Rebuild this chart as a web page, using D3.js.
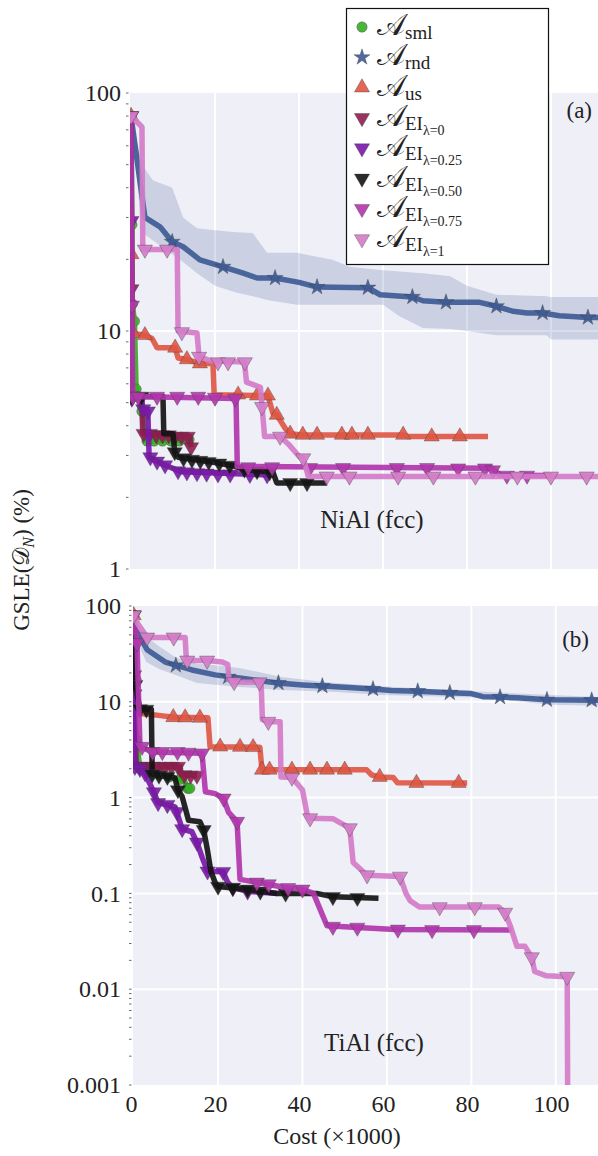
<!DOCTYPE html>
<html>
<head>
<meta charset="utf-8">
<script src="https://cdn.jsdelivr.net/npm/d3@7"></script>
<style>
body { margin: 0; background: #fff; }
svg text { font-family: "Liberation Serif", "DejaVu Serif", serif; fill: #222; }
</style>
</head>
<body>
<script>
// legend / series info
const seriesSub = ["sml", "rnd", "us", "EI", "EI", "EI", "EI", "EI"];
const seriesSubSub = ["", "", "", "λ=0", "λ=0.25", "λ=0.50", "λ=0.75", "λ=1"];
const colors = ["#36ad25", "#3e5b95", "#df5744", "#8e1d4e", "#7a18a8", "#141414", "#b136ac", "#d47cc8"];
const markerKinds = ["circle", "star", "up", "down", "down", "down", "down", "down"];

const xTicks = [0, 20, 40, 60, 80, 100];
const niYTicks = [1, 10, 100];
const tiYTicks = [0.001, 0.01, 0.1, 1, 10, 100];
const tiYTickLabels = ["0.001", "0.01", "0.1", "1", "10", "100"];

// ---- NiAl (fcc): [cost (x1000), GSLE %]
const niSml = [[0,80],[0.2,28],[0.3,13],[0.8,11],[1.2,5.7],[2.6,4.6],[3.8,3.45],[13.8,3.5]];
const niSmlMk = [[0,80],[0.2,28],[0.3,13],[0.8,11],[1.2,5.7],[2.6,4.6],[3.8,3.45],[5.5,3.45],[7.5,3.45],[9.5,3.45],[11.5,3.45],[13.8,3.5]];
const niRnd = [[0,80],[3.3,30],[6.9,27.4],[9.8,23.7],[12.4,22.6],[16.4,19.9],[21.9,18.6],[26.7,17.5],[30,16.7],[34.3,16.7],[40,16],[44.3,15.3],[56.4,15.2],[59.3,14.2],[67,13.9],[69.5,13.4],[75,13.2],[83,13.2],[87,12.7],[91,12.1],[94.3,11.9],[98,11.9],[102,11.6],[108.8,11.4],[112,11.4]];
const niRndMk = [[9.8,23.7],[21.9,18.6],[34.3,16.7],[44.3,15.3],[56.4,15.2],[67,13.9],[75,13.2],[87,12.7],[98,11.9],[108.8,11.4]];
const niBandCost = [0, 2.6, 5.2, 9.8, 12.4, 15.7, 20, 25, 29, 32.4, 39.5, 48, 52, 60, 64, 69.5, 76, 80, 87, 99, 100, 112];
const niBandHi = [80, 50, 43, 40, 30, 27, 26.5, 26, 25.8, 21.3, 21.3, 19.9, 18.6, 18, 17.8, 17.5, 17, 15.5, 14.2, 14, 13.9, 13.9];
const niBandLo = [80, 26, 24, 21, 19.5, 17.5, 15.5, 14.5, 14, 13.5, 12.9, 12.9, 12.9, 12.9, 11.5, 10.3, 10.2, 10, 9.6, 9.6, 9.2, 9.2];
const niUs = [[0,80],[0.1,21],[0.4,9.8],[3.3,9.6],[5,9.3],[6.2,8.5],[10.5,8.5],[11.2,7.7],[13.3,7.6],[16.4,7.3],[19.5,7.3],[19.8,5.4],[32.6,5.35],[33.8,4.5],[34.7,4.44],[36.7,3.9],[37.9,3.7],[40.7,3.66],[64.8,3.66],[66,3.6],[85,3.6]];
const niUsMk = [[0,80],[0.1,21],[0.4,9.8],[3.3,9.6],[10.5,8.5],[13.3,7.6],[16.4,7.3],[25.5,5.4],[30,5.35],[32.6,5.35],[34.7,4.44],[37.9,3.7],[40.9,3.66],[44.3,3.66],[50.2,3.66],[52.6,3.66],[56.4,3.66],[64.8,3.66],[71.6,3.6],[78.3,3.6]];
const niEi0 = [[0,80],[0.1,15],[0.3,5.3],[2.5,5.3],[2.8,3.7],[14,3.6],[14.3,3.25]];
const niEi0Mk = [[0,80],[0.1,15],[0.3,5.3],[3,3.7],[4.5,3.7],[6,3.65],[7.5,3.65],[9,3.65],[10.5,3.6],[12,3.6],[13.5,3.6],[14.3,3.25]];
const niEi25 = [[0,80],[0.1,29],[0.2,5.2],[2.5,5.2],[2.8,4.7],[4,4.6],[4.3,2.95],[6.2,2.83],[8.1,2.73],[12.1,2.56],[34,2.48]];
const niEi25Mk = [[0,80],[0.1,29],[0.2,5.2],[2.9,4.7],[4,4.6],[4.6,2.95],[6.2,2.83],[8.1,2.73],[11.2,2.58],[13.3,2.55],[15.7,2.53],[18,2.52],[20.7,2.5],[23.6,2.5],[28.3,2.49],[32.4,2.48]];
const niEi50 = [[0,80],[0.1,5.3],[7.6,5.3],[7.8,3.7],[10,3.7],[10.4,3.1],[11.2,2.95],[20,2.8],[24.8,2.7],[26.7,2.62],[33.8,2.55],[34.7,2.3],[46.7,2.3]];
const niEi50Mk = [[0.1,5.3],[2.5,5.3],[10.4,3.1],[12.5,2.92],[14.5,2.88],[16.5,2.85],[18.5,2.82],[21,2.78],[23.5,2.72],[27,2.62],[30,2.58],[33,2.55],[37.9,2.3],[41.9,2.3]];
const niEi75 = [[0,80],[0.2,12.8],[0.4,5.3],[25,5.2],[25.3,2.7],[86,2.65],[87.9,2.48],[100.2,2.47]];
const niEi75Mk = [[0,80],[0.2,12.8],[0.4,5.3],[1.7,5.3],[6.2,5.3],[11,5.3],[16,5.3],[20,5.25],[24.8,5.2],[27.9,2.68],[33.6,2.68],[42.6,2.66],[50.5,2.66],[63.3,2.66],[70.5,2.66],[77.9,2.65],[84.3,2.65],[86.2,2.6],[89.5,2.47],[94.3,2.47]];
const niEi100 = [[0,80],[2.6,72],[2.8,22],[11,22],[11.2,10],[15.7,9.8],[16.2,7.8],[19,7.5],[27,7.4],[27.5,6.1],[30.8,5.8],[31.2,4.8],[31.8,3.6],[35.5,3.6],[37.8,3.3],[40.2,2.95],[41,2.92],[42.2,2.45],[112,2.45]];
const niEi100Mk = [[0,80],[3.3,22],[8.6,22],[12.1,9.9],[16.2,7.8],[20.7,7.4],[23.1,7.4],[27.1,7.4],[31.2,4.8],[35.5,3.6],[41,2.92],[46.6,2.45],[52,2.45],[63.6,2.45],[72,2.45],[82,2.45],[92,2.45],[100,2.45],[108.5,2.45]];

// ---- TiAl (fcc)
const tiSml = [[0,80],[0.1,17],[0.2,10],[0.6,4],[1.5,2.0],[5,1.8],[12,1.5],[12.8,1.25],[13.3,1.25]];
const tiSmlMk = [[0,80],[0.1,17],[0.2,10],[0.6,4],[1.5,2],[3.5,1.85],[6,1.75],[8.5,1.65],[11,1.55],[12.8,1.25],[13.3,1.25]];
const tiRnd = [[0,80],[0.5,56],[3.2,35],[7.5,26],[13.8,21.5],[19.3,19.1],[26,17.5],[34.2,15.7],[40,15],[44.7,14.6],[51,14.1],[56.7,13.6],[61,13.1],[67.3,12.9],[74.9,12.4],[80,12.2],[82.7,11.3],[86.8,11.2],[91,11],[97.9,10.5],[111,10.4]];
const tiRndMk = [[10,24],[22.4,18.2],[34.3,15.7],[44.7,14.6],[56.7,13.6],[67.3,12.9],[74.9,12.4],[86.8,11.2],[97.9,10.5],[108.5,10.4]];
const tiBandCost = [0, 0.5, 3, 6, 10, 15, 20, 25, 35, 47, 59, 70, 83, 90, 99, 111];
const tiBandHi = [80, 63, 48, 38, 29, 25, 24, 22.6, 18.1, 15.8, 14.5, 13.6, 12.7, 12.3, 11.8, 11.2];
const tiBandLo = [80, 45, 26, 22, 19, 15.7, 15, 14.3, 13.3, 12.7, 11.8, 11.4, 11, 10.2, 9.3, 9.1];
const tiUs = [[0,80],[0.1,19],[0.3,8],[1,7.6],[5,7.3],[9.4,6.9],[17.6,6.8],[18.1,3.4],[29.9,3.35],[30.4,1.95],[55.2,1.95],[56.4,1.72],[58.3,1.64],[61.5,1.62],[62.5,1.43],[79,1.42]];
const tiUsMk = [[0,80],[0.1,19],[0.3,8],[9.4,6.9],[12.2,6.85],[15.7,6.8],[20.5,3.4],[25.2,3.38],[28.3,3.36],[30.4,1.95],[32.2,1.95],[37.5,1.95],[41.8,1.95],[45.8,1.95],[50,1.95],[58.3,1.64],[67,1.42],[77,1.42]];
const tiEi0 = [[0,80],[0.1,19],[0.2,12],[0.6,2.1],[11,2.1],[11.3,1.72],[15,1.7]];
const tiEi0Mk = [[0,80],[0.1,19],[0.2,12],[1.5,2.1],[3,2.1],[4.5,2.1],[6,2.1],[7.5,2.1],[9,2.1],[10.5,2.1],[12,1.72],[13.5,1.7],[15,1.7]];
const tiEi25 = [[0,80],[0.3,2.1],[1.5,2.0],[2.7,1.8],[3.5,1.5],[4.8,1.14],[5.8,0.88],[8,0.84],[9.8,0.8],[10.2,0.71],[11.5,0.47],[13.8,0.44],[15,0.34],[16.2,0.24],[17.5,0.17],[21.2,0.168],[22.3,0.13],[23.5,0.115],[27,0.105],[34,0.1]];
const tiEi25Mk = [[0,80],[0.3,2.1],[1.5,2.0],[2.7,1.8],[4.8,1.14],[5.8,0.88],[8,0.84],[10.2,0.71],[11.5,0.47],[15,0.34],[17.5,0.17],[21.2,0.168],[23.5,0.115],[27,0.105]];
const tiEi50 = [[0,80],[0.2,45],[0.4,15],[1.5,8.4],[4.2,8.3],[4.4,1.75],[9.8,1.6],[10.5,1.2],[11.5,1.02],[13,0.58],[15.7,0.56],[16.6,0.46],[17.5,0.28],[18.3,0.17],[19.3,0.13],[20,0.118],[27,0.11],[34,0.1],[43.4,0.1],[47.2,0.092],[58,0.089]];
const tiEi50Mk = [[0.4,15],[1.5,8.4],[3,8.3],[4.4,1.75],[6,1.7],[8,1.65],[10.5,1.2],[16.6,0.46],[20,0.118],[23.5,0.114],[27,0.11],[30,0.105],[36,0.1],[47.2,0.092],[53,0.09]];
const tiEi75 = [[0,80],[0.8,41],[1.5,3.4],[4.5,3.0],[16.2,2.9],[17,1.15],[19.3,1.1],[21.3,0.98],[22.5,0.7],[24.5,0.56],[25.2,0.14],[36.6,0.114],[40,0.11],[42.6,0.1],[44.5,0.063],[45.8,0.046],[53,0.044],[62,0.042],[89.6,0.0415]];
const tiEi75Mk = [[0,80],[0.8,41],[2,3.4],[4.5,3.0],[6.8,3.0],[10.4,3.0],[13,2.95],[16.2,2.9],[21.3,0.98],[24.5,0.56],[29.2,0.13],[32,0.125],[36.6,0.114],[40,0.11],[47.2,0.045],[53,0.044],[62.6,0.042],[70.7,0.0415],[80.6,0.0415]];
const tiEi100 = [[0,80],[1,65],[3.2,47],[12.2,47],[12.5,27],[17.5,27],[21,26],[22.3,24.5],[22.6,16.9],[24,16.1],[30.2,16],[30.5,6.5],[31.9,6.2],[34.7,6.2],[34.9,1.64],[37.5,1.62],[40,1.2],[41.2,0.63],[41.8,0.61],[47.3,0.6],[51.2,0.48],[52,0.21],[55.3,0.155],[63.1,0.15],[64.5,0.1],[65.5,0.084],[67.7,0.072],[86.5,0.072],[88,0.063],[89.2,0.046],[90.8,0.028],[92.7,0.028],[94.3,0.0216],[95,0.0153],[97.8,0.0138],[102.7,0.0135],[102.9,0.0001]];
const tiEi100Mk = [[0,80],[3.2,47],[9.5,47],[12.7,27],[17.4,27],[23.8,16.1],[29.8,16],[31.9,6.2],[37.5,1.62],[41.8,0.61],[51.2,0.48],[55.3,0.155],[63.1,0.15],[72.5,0.072],[80.8,0.072],[88,0.063],[94.3,0.0216],[102.7,0.0135]];

const svg = d3.select("body").append("svg")
    .attr("width", 598)
    .attr("height", 1156);

// set the ranges of both panels
const xNi = d3.scaleLinear().domain([-0.25, 111.2]).range([130, 598]);
const yNi = d3.scaleLog().domain([1, 100]).range([569, 93]);
const xTi = d3.scaleLinear().domain([-0.15, 110]).range([133, 598]);
const yTi = d3.scaleLog().domain([0.001, 100]).range([1085, 606]);

function markerPath(kind) {
    if (kind === "circle") return d3.symbol().type(d3.symbolCircle).size(85)();
    if (kind === "star") return d3.symbol().type(d3.symbolStar).size(80)();
    return d3.symbol().type(d3.symbolTriangle).size(100)();
}

function drawPanel(p) {
    const x = p.x, y = p.y;
    const [x0, x1] = x.range();
    const [y1, y0] = y.range();
    const g = svg.append("g");

    g.append("clipPath").attr("id", p.id + "clip")
        .append("rect").attr("x", x0).attr("y", y0).attr("width", x1 - x0).attr("height", y1 - y0);

    g.append("rect")
        .attr("x", x0).attr("y", y0).attr("width", x1 - x0).attr("height", y1 - y0)
        .attr("fill", "#efeff7");

    // grid
    g.selectAll(".vg").data(xTicks.filter(d => d > 0)).enter().append("line")
        .attr("x1", d => x(d)).attr("x2", d => x(d))
        .attr("y1", y0).attr("y2", y1)
        .attr("stroke", "#fff").attr("stroke-width", 2);
    g.selectAll(".hg").data(p.yTicks.slice(1, -1)).enter().append("line")
        .attr("x1", x0).attr("x2", x1)
        .attr("y1", d => y(d)).attr("y2", d => y(d))
        .attr("stroke", "#fff").attr("stroke-width", 2);

    // minor ticks of the log axis
    const minor = [];
    p.yTicks.slice(0, -1).forEach(t => { for (let k = 2; k <= 9; k++) minor.push(t * k); });
    g.selectAll(".mt").data(minor.concat(p.yTicks)).enter().append("line")
        .attr("x1", x0 - 4).attr("x2", x0 - 1.5)
        .attr("y1", d => y(d)).attr("y2", d => y(d))
        .attr("stroke", "#444").attr("stroke-width", 0.8);

    // y axis labels
    const ax = g.append("g")
        .attr("transform", "translate(" + x0 + ",0)")
        .call(d3.axisLeft(y).tickValues(p.yTicks).tickFormat((d, i) => p.yLabels[i]).tickSize(0).tickPadding(x0 - 121));
    ax.select(".domain").remove();
    ax.attr("font-family", null).attr("font-size", null);
    ax.selectAll("text").attr("font-size", 24).attr("fill", "#222");

    const plot = g.append("g").attr("clip-path", "url(#" + p.id + "clip)");

    // shaded band of the random strategy
    const band = p.bandCost.map((c, i) => [c, p.bandLo[i], p.bandHi[i]]);
    plot.append("path")
        .datum(band)
        .attr("fill", colors[1]).attr("fill-opacity", 0.2)
        .attr("d", d3.area().x(d => x(d[0])).y0(d => y(d[1])).y1(d => y(d[2])));

    const line = d3.line().x(d => x(d[0])).y(d => y(d[1]));
    p.lines.forEach((s, i) => {
        plot.append("path")
            .datum(s)
            .attr("fill", "none")
            .attr("stroke", colors[i])
            .attr("stroke-width", 5.5)
            .attr("stroke-opacity", 0.92)
            .attr("stroke-linejoin", "round")
            .attr("d", line);
        plot.selectAll(null).data(p.marks[i]).enter().append("path")
            .attr("d", markerPath(markerKinds[i]))
            .attr("transform", d => "translate(" + x(d[0]) + "," + y(d[1]) + ")" + (markerKinds[i] === "down" ? " rotate(180)" : ""))
            .attr("fill", colors[i])
            .attr("fill-opacity", 0.9)
            .attr("stroke", "#3a3a3a")
            .attr("stroke-opacity", 0.6)
            .attr("stroke-width", 0.6);
    });

    g.append("text").attr("x", p.tagX).attr("y", p.tagY)
        .attr("text-anchor", "end").attr("font-size", 23).text(p.tag);
    g.append("text").attr("x", p.nameX).attr("y", p.nameY)
        .attr("text-anchor", "middle").attr("font-size", 25).text(p.name);
}

drawPanel({
    id: "ni", x: xNi, y: yNi, yTicks: niYTicks, yLabels: ["1", "10", "100"],
    bandCost: niBandCost, bandLo: niBandLo, bandHi: niBandHi,
    lines: [niSml, niRnd, niUs, niEi0, niEi25, niEi50, niEi75, niEi100],
    marks: [niSmlMk, niRndMk, niUsMk, niEi0Mk, niEi25Mk, niEi50Mk, niEi75Mk, niEi100Mk],
    tag: "(a)", tagX: 592, tagY: 118, name: "NiAl (fcc)", nameX: 372, nameY: 528
});
drawPanel({
    id: "ti", x: xTi, y: yTi, yTicks: tiYTicks, yLabels: tiYTickLabels,
    bandCost: tiBandCost, bandLo: tiBandLo, bandHi: tiBandHi,
    lines: [tiSml, tiRnd, tiUs, tiEi0, tiEi25, tiEi50, tiEi75, tiEi100],
    marks: [tiSmlMk, tiRndMk, tiUsMk, tiEi0Mk, tiEi25Mk, tiEi50Mk, tiEi75Mk, tiEi100Mk],
    tag: "(b)", tagX: 589, tagY: 647, name: "TiAl (fcc)", nameX: 374, nameY: 1051
});

// x axis labels
const xAx = svg.append("g")
    .attr("transform", "translate(0,1085)")
    .call(d3.axisBottom(xNi).tickValues(xTicks).tickSize(0).tickPadding(10));
xAx.select(".domain").remove();
xAx.attr("font-family", null).attr("font-size", null);
xAx.selectAll("text").attr("font-size", 24).attr("fill", "#222");

svg.append("text").attr("x", 337).attr("y", 1144)
    .attr("text-anchor", "middle").attr("font-size", 24)
    .text("Cost (×1000)");

const yl = svg.append("text")
    .attr("transform", "translate(29,560) rotate(-90)")
    .attr("text-anchor", "middle").attr("font-size", 23);
yl.append("tspan").text("GSLE(");
yl.append("tspan").text("𝒟");
yl.append("tspan").attr("font-size", 16).attr("dy", 5).attr("font-style", "italic").text("N");
yl.append("tspan").attr("dy", -5).text(") (%)");

// legend
const leg = svg.append("g");
leg.append("rect").attr("x", 346.5).attr("y", 8.5).attr("width", 202).attr("height", 256)
    .attr("fill", "#fff").attr("stroke", "#111").attr("stroke-width", 1.2);
seriesSub.forEach((s, i) => {
    const cy = 27 + i * 30.3;
    leg.append("path")
        .attr("d", markerPath(markerKinds[i]))
        .attr("transform", "translate(362," + cy + ")" + (markerKinds[i] === "down" ? " rotate(180)" : ""))
        .attr("fill", colors[i]).attr("fill-opacity", 0.9)
        .attr("stroke", "#3a3a3a").attr("stroke-opacity", 0.6).attr("stroke-width", 0.6);
    const t = leg.append("text").attr("x", 377).attr("y", cy + 8).attr("font-size", 30);
    t.append("tspan").text("𝒜");
    t.append("tspan").attr("font-size", 19).attr("dy", 4).text(s);
    if (seriesSubSub[i]) t.append("tspan").attr("font-size", 14).attr("dy", 5).text(seriesSubSub[i]);
});
</script>
</body>
</html>
